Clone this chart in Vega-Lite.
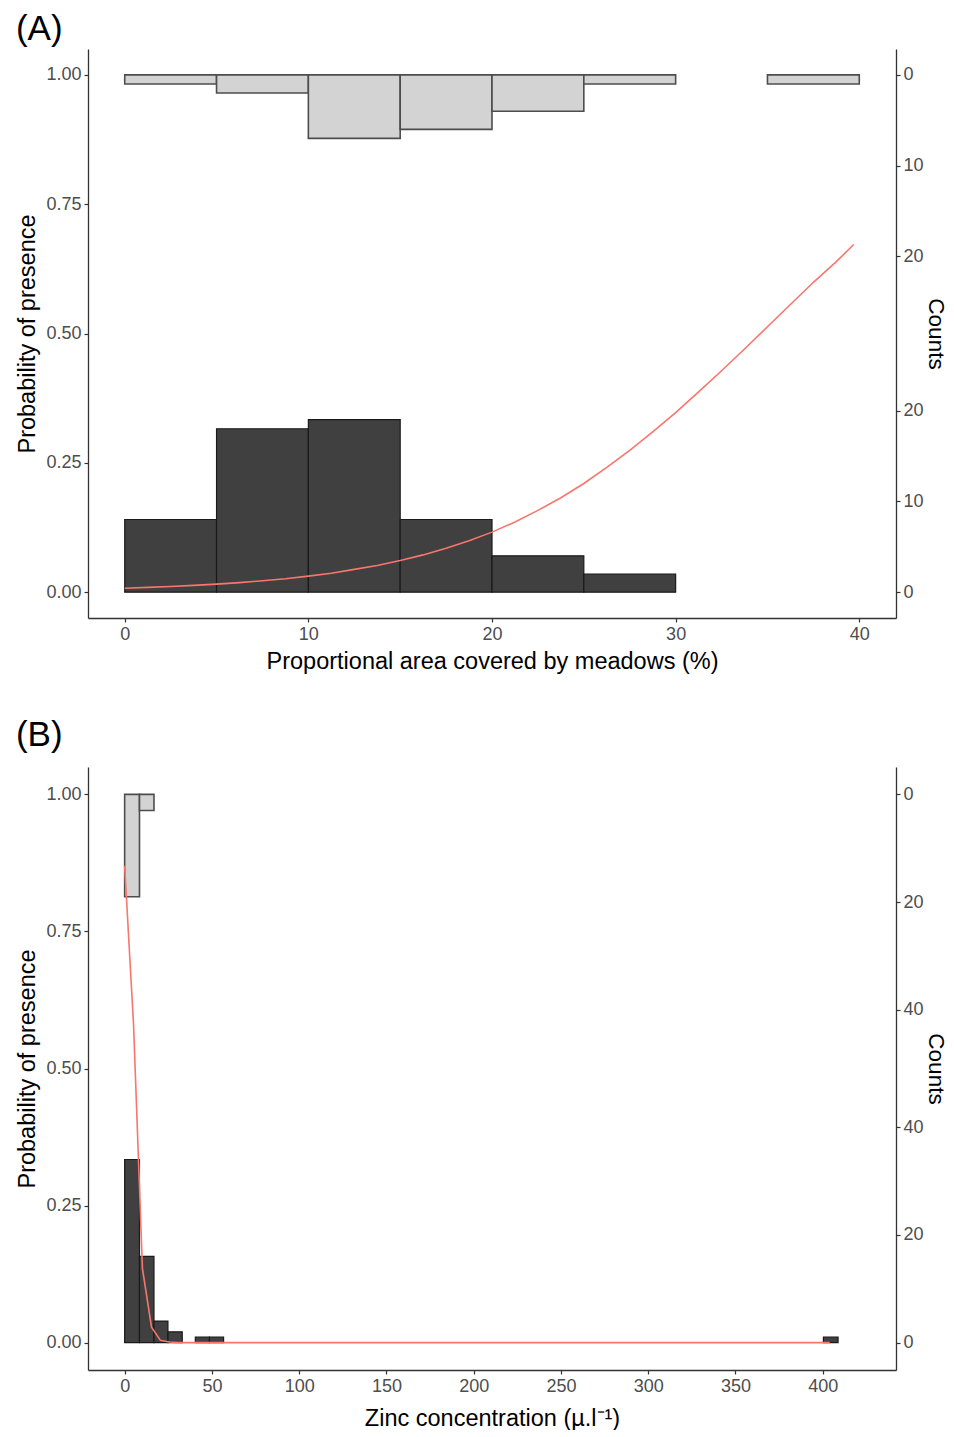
{
  "$schema": "https://vega.github.io/schema/vega-lite/v6.json",
  "padding": {"left": 15, "top": 12, "right": 0, "bottom": 0},
  "spacing": 45,
  "config": {
    "font": "Liberation Sans",
    "view": {"stroke": null},
    "axis": {"grid": false, "domainColor": "#333333", "domainWidth": 1.3, "tickColor": "#333333", "tickWidth": 1.2, "tickSize": 4, "labelFontSize": 18, "labelColor": "#4d4d4d", "labelPadding": 3, "titleFontSize": 23.5, "titleFontWeight": "normal", "titleColor": "#000000", "titlePadding": 6},
    "title": {"fontSize": 35, "fontWeight": "normal", "anchor": "start", "frame": "bounds", "offset": 2, "color": "#000000"}
  },
  "datasets": {
    "topA": [
      {"lo": 0, "hi": 5, "n": 1},
      {"lo": 5, "hi": 10, "n": 2},
      {"lo": 10, "hi": 15, "n": 7},
      {"lo": 15, "hi": 20, "n": 6},
      {"lo": 20, "hi": 25, "n": 4},
      {"lo": 25, "hi": 30, "n": 1},
      {"lo": 35, "hi": 40, "n": 1}
    ],
    "botA": [
      {"lo": 0, "hi": 5, "n": 8},
      {"lo": 5, "hi": 10, "n": 18},
      {"lo": 10, "hi": 15, "n": 19},
      {"lo": 15, "hi": 20, "n": 8},
      {"lo": 20, "hi": 25, "n": 4},
      {"lo": 25, "hi": 30, "n": 2}
    ],
    "curveA": [
      {"x": 0, "p": 0.0075},
      {"x": 1.25, "p": 0.0092},
      {"x": 2.5, "p": 0.011},
      {"x": 3.75, "p": 0.0131},
      {"x": 5, "p": 0.0155},
      {"x": 6.25, "p": 0.0184},
      {"x": 7.5, "p": 0.022},
      {"x": 8.75, "p": 0.026},
      {"x": 10, "p": 0.031},
      {"x": 11.25, "p": 0.0366},
      {"x": 12.5, "p": 0.044},
      {"x": 13.75, "p": 0.0515},
      {"x": 15, "p": 0.061},
      {"x": 16.25, "p": 0.072},
      {"x": 17.5, "p": 0.085},
      {"x": 18.75, "p": 0.0995},
      {"x": 20, "p": 0.116},
      {"x": 21.25, "p": 0.1355},
      {"x": 22.5, "p": 0.158},
      {"x": 23.75, "p": 0.1825},
      {"x": 25, "p": 0.21},
      {"x": 26.25, "p": 0.241},
      {"x": 27.5, "p": 0.274},
      {"x": 28.75, "p": 0.31},
      {"x": 30, "p": 0.347},
      {"x": 31.25, "p": 0.387},
      {"x": 32.5, "p": 0.428},
      {"x": 33.75, "p": 0.47},
      {"x": 35, "p": 0.513},
      {"x": 36.25, "p": 0.556},
      {"x": 37.5, "p": 0.599},
      {"x": 38.75, "p": 0.639},
      {"x": 39.7, "p": 0.672}
    ],
    "topB": [
      {"lo": 0, "hi": 8.5, "n": 19},
      {"lo": 8.5, "hi": 16.8, "n": 3}
    ],
    "botB": [
      {"lo": 0, "hi": 8.5, "n": 34},
      {"lo": 8.5, "hi": 16.8, "n": 16},
      {"lo": 16.8, "hi": 24.8, "n": 4},
      {"lo": 24.8, "hi": 33.0, "n": 2},
      {"lo": 40.5, "hi": 48.6, "n": 1},
      {"lo": 48.6, "hi": 56.7, "n": 1},
      {"lo": 400.4, "hi": 408.8, "n": 1}
    ],
    "curveB": [
      {"x": 0, "p": 0.87},
      {"x": 5.1, "p": 0.58},
      {"x": 10.2, "p": 0.135},
      {"x": 15.4, "p": 0.028},
      {"x": 20.5, "p": 0.004},
      {"x": 25.6, "p": 0.001},
      {"x": 30.7, "p": 0},
      {"x": 404, "p": 0}
    ]
  },
  "vconcat": [
    {
      "title": {"text": "(A)"},
      "width": 808,
      "height": 569,
      "layer": [
        {
          "data": {"name": "topA"},
          "mark": {"type": "bar", "fill": "#d3d3d3", "stroke": "#4d4d4d", "strokeWidth": 1.6},
          "encoding": {
            "x": {"field": "lo", "type": "quantitative", "scale": {"domain": [-2, 42], "nice": false, "zero": false}, "axis": {"values": [0, 10, 20, 30, 40], "format": "d", "title": "Proportional area covered by meadows (%)"}},
            "x2": {"field": "hi"},
            "y": {"field": "n", "type": "quantitative", "scale": {"domain": [-2.849, 59.83], "nice": false, "zero": false, "reverse": true}, "axis": null},
            "y2": {"datum": 0}
          }
        },
        {
          "data": {"name": "botA"},
          "mark": {"type": "bar", "fill": "#404040", "stroke": "#1a1a1a", "strokeWidth": 1.2},
          "encoding": {
            "x": {"field": "lo", "type": "quantitative", "scale": {"domain": [-2, 42], "nice": false, "zero": false}, "axis": {"values": [0, 10, 20, 30, 40], "format": "d", "title": "Proportional area covered by meadows (%)"}},
            "x2": {"field": "hi"},
            "y": {"field": "n", "type": "quantitative", "scale": {"domain": [-2.849, 59.83], "nice": false, "zero": false}, "axis": {"orient": "right", "values": [0, 10, 20, 36.98, 46.98, 56.98], "labelExpr": "datum.value > 28 ? format(56.98 - datum.value, '.0f') : format(datum.value, '.0f')", "title": "Counts", "titlePadding": 0, "labelPadding": 3, "titleFontSize": 22.5}},
            "y2": {"datum": 0}
          }
        },
        {
          "data": {"name": "curveA"},
          "mark": {"type": "line", "color": "#f8766d", "strokeWidth": 1.6},
          "encoding": {
            "x": {"field": "x", "type": "quantitative", "scale": {"domain": [-2, 42], "nice": false, "zero": false}, "axis": {"values": [0, 10, 20, 30, 40], "format": "d", "title": "Proportional area covered by meadows (%)"}},
            "y": {"field": "p", "type": "quantitative", "scale": {"domain": [-0.05, 1.05], "nice": false, "zero": false}, "axis": {"orient": "left", "values": [0, 0.25, 0.5, 0.75, 1], "format": ".2f", "title": "Probability of presence"}}
          }
        }
      ],
      "resolve": {"scale": {"y": "independent"}}
    },
    {
      "title": {"text": "(B)", "offset": 14},
      "width": 808,
      "height": 603,
      "layer": [
        {
          "data": {"name": "topB"},
          "mark": {"type": "bar", "fill": "#d3d3d3", "stroke": "#4d4d4d", "strokeWidth": 1.6},
          "encoding": {
            "x": {"field": "lo", "type": "quantitative", "scale": {"domain": [-21, 442], "nice": false, "zero": false}, "axis": {"values": [0, 50, 100, 150, 200, 250, 300, 350, 400], "format": "d", "title": "Zinc concentration (µ.l⁻¹)", "titlePadding": 11}},
            "x2": {"field": "hi"},
            "y": {"field": "n", "type": "quantitative", "scale": {"domain": [-5.09, 106.9], "nice": false, "zero": false, "reverse": true}, "axis": null},
            "y2": {"datum": 0}
          }
        },
        {
          "data": {"name": "botB"},
          "mark": {"type": "bar", "fill": "#404040", "stroke": "#1a1a1a", "strokeWidth": 1.2},
          "encoding": {
            "x": {"field": "lo", "type": "quantitative", "scale": {"domain": [-21, 442], "nice": false, "zero": false}, "axis": {"values": [0, 50, 100, 150, 200, 250, 300, 350, 400], "format": "d", "title": "Zinc concentration (µ.l⁻¹)", "titlePadding": 11}},
            "x2": {"field": "hi"},
            "y": {"field": "n", "type": "quantitative", "scale": {"domain": [-5.09, 106.9], "nice": false, "zero": false}, "axis": {"orient": "right", "values": [0, 20, 40, 61.8, 81.8, 101.8], "labelExpr": "datum.value > 50 ? format(101.8 - datum.value, '.0f') : format(datum.value, '.0f')", "title": "Counts", "titlePadding": 0, "labelPadding": 3, "titleFontSize": 22.5}},
            "y2": {"datum": 0}
          }
        },
        {
          "data": {"name": "curveB"},
          "mark": {"type": "line", "color": "#f8766d", "strokeWidth": 1.6},
          "encoding": {
            "x": {"field": "x", "type": "quantitative", "scale": {"domain": [-21, 442], "nice": false, "zero": false}, "axis": {"values": [0, 50, 100, 150, 200, 250, 300, 350, 400], "format": "d", "title": "Zinc concentration (µ.l⁻¹)", "titlePadding": 11}},
            "y": {"field": "p", "type": "quantitative", "scale": {"domain": [-0.05, 1.05], "nice": false, "zero": false}, "axis": {"orient": "left", "values": [0, 0.25, 0.5, 0.75, 1], "format": ".2f", "title": "Probability of presence"}}
          }
        }
      ],
      "resolve": {"scale": {"y": "independent"}}
    }
  ]
}
